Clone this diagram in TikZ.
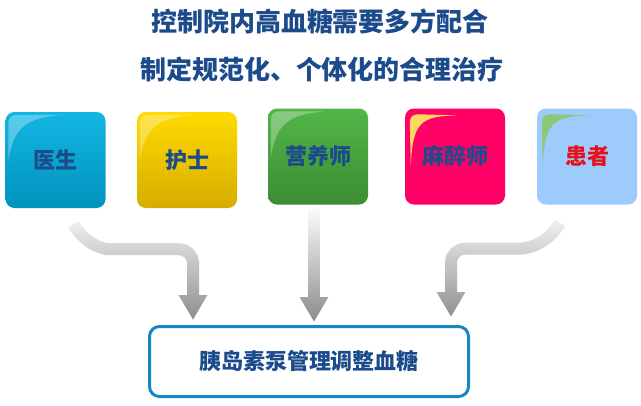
\documentclass[tikz,border=0pt]{standalone}
\usepackage{fontspec}
\newfontfamily\cjk{Noto Sans CJK SC}
\usepackage{tikz}
\usetikzlibrary{arrows.meta,fadings,backgrounds}

\definecolor{darkblue}{HTML}{1C4B8C}
\definecolor{flowgray}{HTML}{8A8A8A}
\definecolor{docblue}{HTML}{12B6E2}
\definecolor{docbluedark}{HTML}{0093BD}
\definecolor{nurseyellow}{HTML}{FFDA00}
\definecolor{nurseyellowdark}{HTML}{D6AD00}
\definecolor{dietgreen}{HTML}{52B648}
\definecolor{dietgreendark}{HTML}{3C8C33}
\definecolor{anespink}{HTML}{FF0066}
\definecolor{anesyellow}{HTML}{FCD860}
\definecolor{patientblue}{HTML}{9CCBFC}
\definecolor{patientgreen}{HTML}{8DC975}
\definecolor{patientred}{HTML}{E8101C}
\definecolor{pumpblue}{HTML}{1A85C5}

\tikzfading[name=fadeup,top color=transparent!0,middle color=transparent!25,bottom color=transparent!100]

\tikzset{
  role/.style={rounded corners=9pt,minimum width=100pt,minimum height=96pt,inner sep=0pt,
    font=\cjk\bfseries\fontsize{22}{26}\selectfont,text=darkblue},
  headline/.style={font=\cjk\bfseries\fontsize{26}{30}\selectfont,text=darkblue},
  flow/.style={draw=flowgray,line width=12pt,rounded corners=14pt,-{Triangle[width=27pt,length=25pt]}},
  gloss/.style={fill=white,opacity=0.3}
}

\begin{document}
\begin{tikzpicture}[x=1pt,y=-1pt]
\node[headline] (line1) at (320,21) {控制院内高血糖需要多方配合};
\node[headline] (line2) at (322,69) {制定规范化、个体化的合理治疗};

\node[role,top color=docblue,bottom color=docbluedark] (yisheng) at (55.5,160) {医生};
\node[role,top color=nurseyellow,bottom color=nurseyellowdark] (hushi) at (187,160) {护士};
\node[role,top color=dietgreen,bottom color=dietgreendark] (yingyang) at (318,156.5) {营养师};
\node[role,fill=anespink] (mazui) at (455,156.5) {麻醉师};
\node[role,fill=patientblue,text=patientred] (huanzhe) at (587,156.5) {患者};

\foreach \n in {yisheng,hushi,yingyang}
  \fill[gloss,shift={(\n.north west)}] (3,12) .. controls (3,6) and (6,3) .. (12,3) -- (58,3) .. controls (22,6) and (8,14) .. (3,50) -- cycle;
\fill[anesyellow,shift={(mazui.north west)}] (5,14) .. controls (5,9) and (8,6) .. (13,6) -- (53,7) .. controls (15,8) and (8,14) .. (6,58) -- cycle;
\fill[patientgreen,shift={(huanzhe.north west)}] (5,14) .. controls (5,9) and (8,6) .. (13,6) -- (55,7) .. controls (15,8) and (8,14) .. (6,58) -- cycle;

\node[draw=pumpblue,line width=3pt,rounded corners=10pt,fill=white,minimum width=319pt,minimum height=70pt,
  font=\cjk\bfseries\fontsize{22}{26}\selectfont,text=darkblue] (pump) at (309,361.5) {胰岛素泵管理调整血糖};

\begin{scope}[on background layer]
\fill[white] (0,0) rectangle (641,405);
\draw[flow] ([xshift=18pt,yshift=-16pt]yisheng.south) to[out=-60,in=180] ++(50,25) -| ([xshift=-116pt,yshift=5pt]pump.north);
\draw[flow] ([xshift=-4pt]yingyang.south) -- ([xshift=5pt,yshift=3pt]pump.north);
\draw[flow] ([xshift=-27pt,yshift=-18pt]huanzhe.south) to[out=-120,in=0] ++(-55,26) -| ([xshift=142pt,yshift=8pt]pump.north);
\fill[white,path fading=fadeup] (0,205) rectangle (641,324);
\end{scope}
\end{tikzpicture}
\end{document}
